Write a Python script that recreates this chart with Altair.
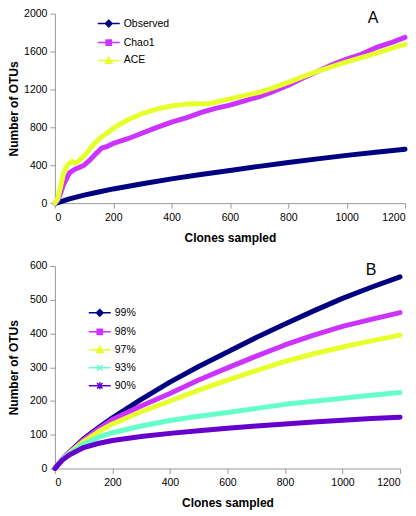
import altair as alt
import pandas as pd

# ---------------- Panel A data ----------------
obs_x = [5, 50, 100, 150, 200, 300, 400, 500, 600, 700, 800, 900, 1000, 1100, 1200]
obs_y = [0, 45, 85, 118, 150, 205, 256, 302, 345, 388, 428, 467, 504, 537, 568]

chao_x = [0, 10, 20, 30, 40, 50, 60, 70, 80, 100, 120, 140, 160, 180, 200, 250, 300, 350,
          400, 450, 500, 550, 600, 650, 700, 750, 800, 850, 900, 950, 1000, 1050, 1100, 1150, 1200]
chao_y = [0, 30, 110, 200, 260, 320, 340, 360, 372, 400, 455, 520, 580, 600, 630, 680, 740, 800,
          855, 900, 955, 1000, 1035, 1080, 1125, 1180, 1245, 1320, 1390, 1460, 1520, 1570, 1640, 1690, 1750]

ace_x = [0, 10, 20, 30, 40, 50, 60, 70, 80, 100, 120, 140, 160, 180, 200, 250, 300, 350, 400,
         450, 500, 530, 550, 600, 650, 700, 750, 800, 850, 900, 950, 1000, 1050, 1100, 1150, 1200]
ace_y = [0, 50, 180, 320, 390, 420, 440, 420, 440, 495, 575, 645, 700, 740, 790, 880, 945, 995, 1025,
         1045, 1050, 1050, 1065, 1100, 1135, 1170, 1220, 1275, 1335, 1390, 1440, 1490, 1535, 1580, 1630, 1675]

series_a = ["Observed", "Chao1", "ACE"]
colors_a = ["#000080", "#CC33FF", "#E8FF2E"]

# ---------------- Panel B data ----------------
b_x = [0, 25, 50, 100, 150, 200, 300, 400, 500, 600, 700, 800, 900, 1000, 1100, 1200]
p99 = [0, 26, 48, 88, 120, 150, 205, 256, 302, 345, 388, 428, 467, 504, 537, 568]
p98 = [0, 26, 47, 85, 116, 145, 185, 222, 262, 298, 333, 366, 395, 421, 442, 462]
p97 = [0, 25, 45, 80, 108, 132, 168, 200, 232, 262, 290, 317, 340, 360, 378, 395]
p93 = [0, 25, 43, 72, 92, 106, 126, 142, 155, 166, 178, 190, 199, 208, 217, 225]
p90 = [0, 24, 40, 62, 74, 83, 95, 104, 112, 119, 126, 132, 138, 143, 148, 152]

series_b = ["99%", "98%", "97%", "93%", "90%"]
colors_b = ["#000080", "#CC33FF", "#E8FF2E", "#66FFCC", "#6600CC"]

panel_labels = ["A", "B"]

# legend symbols: short line with marker (units of 11 px)
DIAMOND = "M-1,0H1M0,-0.3L0.3,0L0,0.3L-0.3,0Z"
SQUARE = "M-1,0H1M-0.24,-0.24H0.24V0.24H-0.24Z"
TRIANGLE = "M-1,0H1M0,-0.3L0.3,0.24H-0.3Z"
CROSS = "M-1,0H1M-0.25,-0.25L0.25,0.25M-0.25,0.25L0.25,-0.25"
STAR = "M-1,0H1M-0.25,-0.25L0.25,0.25M-0.25,0.25L0.25,-0.25M0,-0.32V0.32"
shapes_a = [DIAMOND, SQUARE, TRIANGLE]
shapes_b = [DIAMOND, SQUARE, TRIANGLE, CROSS, STAR]

dfA = pd.concat([
    pd.DataFrame({"x": obs_x, "y": obs_y, "series": "Observed"}),
    pd.DataFrame({"x": chao_x, "y": chao_y, "series": "Chao1"}),
    pd.DataFrame({"x": ace_x, "y": ace_y, "series": "ACE"}),
], ignore_index=True)

dfB = pd.concat([
    pd.DataFrame({"x": b_x, "y": vals, "series": name})
    for name, vals in zip(series_b, [p99, p98, p97, p93, p90])
], ignore_index=True)

FONT = "Liberation Sans"
GRAY = "#999999"


def x_axis():
    return alt.Axis(values=[0, 200, 400, 600, 800, 1000, 1200], format="d", grid=False, tickSize=5,
                    labelPadding=4, titlePadding=10, domainColor=GRAY, tickColor=GRAY,
                    labelFont=FONT, labelFontSize=10.5, labelColor="black",
                    titleFont=FONT, titleFontSize=12, titleFontWeight="bold", titleColor="black")


def y_axis(values):
    return alt.Axis(values=values, format="d", grid=False, tickSize=5, labelPadding=3, titlePadding=3,
                    minExtent=31, maxExtent=31, domainColor=GRAY, tickColor=GRAY,
                    labelFont=FONT, labelFontSize=10.5, labelColor="black",
                    titleFont=FONT, titleFontSize=12, titleFontWeight="bold", titleColor="black")


def legend(lx, ly):
    return alt.Legend(title=None, orient="none", legendX=lx, legendY=ly,
                      labelFont=FONT, labelFontSize=10.5, labelColor="black",
                      symbolSize=484, symbolStrokeWidth=1.5, symbolOpacity=1,
                      rowPadding=-3.5, labelOffset=3, padding=0)


def panel(df, doms, cols, shps, ymax, yvals, w, h, lx, ly, label, tx):
    xenc = alt.X("x:Q", scale=alt.Scale(domain=[0, 1200], nice=False), axis=x_axis(),
                 title="Clones sampled")
    yenc = alt.Y("y:Q", scale=alt.Scale(domain=[0, ymax], nice=False), axis=y_axis(yvals),
                 title="Number of OTUs")
    lg = legend(lx, ly)
    stroke_enc = alt.Stroke("series:N", scale=alt.Scale(domain=doms, range=cols), legend=lg)
    lines = alt.Chart(df).mark_line(strokeWidth=5, strokeJoin="round", strokeCap="round").encode(
        x=xenc, y=yenc, stroke=stroke_enc,
    )
    # legend-only layer: no rows survive the filter, the explicit domain drives the legend
    pts = alt.Chart(df).transform_filter(alt.datum.x < -1).mark_point(filled=True).encode(
        x=xenc, y=yenc,
        fill=alt.Fill("series:N", scale=alt.Scale(domain=doms, range=cols), legend=lg),
        stroke=stroke_enc,
        shape=alt.Shape("series:N", scale=alt.Scale(domain=doms, range=shps), legend=lg),
    )
    txt = alt.Chart(pd.DataFrame({"t": [label]})).mark_text(
        font=FONT, fontSize=16, color="black", baseline="middle", align="center"
    ).encode(text="t:N", x=alt.value(tx), y=alt.value(4))
    return alt.layer(lines, pts, txt).properties(width=w, height=h)


top = panel(dfA, series_a, colors_a, shapes_a, 2000, [0, 400, 800, 1200, 1600, 2000],
            351, 190, 42, -2, panel_labels[0], 319)
bottom = panel(dfB, series_b, colors_b, shapes_b, 600, [0, 100, 200, 300, 400, 500, 600],
               346, 203, 33, 35, panel_labels[1], 317)

chart = alt.vconcat(top, bottom, spacing=17).resolve_scale(
    fill="independent", stroke="independent", shape="independent"
).properties(padding=0).configure_view(strokeWidth=0)

chart.save("out.html", embed_options={"renderer": "svg", "actions": False})
